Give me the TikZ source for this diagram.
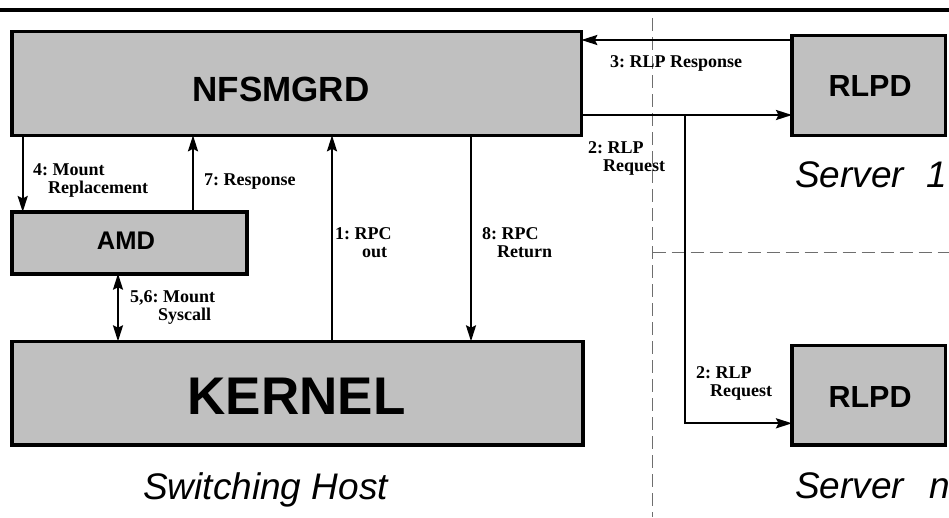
\documentclass[tikz,border=0pt]{standalone}
\usepackage{fontspec}
\setmainfont{Liberation Serif}
\newfontfamily\hv{Liberation Sans}
\usetikzlibrary{arrows.meta}
\definecolor{boxgray}{RGB}{192,192,192}
\definecolor{dashgray}{RGB}{110,110,110}
\frenchspacing
\tikzset{headtip/.tip={Stealth[length=16pt,width=10pt,inset=2.5pt]}}
\begin{document}
\begin{tikzpicture}[x=1pt,y=-1pt,
  box/.style={draw=black, line width=3.6pt, fill=boxgray, inner sep=0pt, outer sep=0pt, anchor=north west},
  arr/.style={line width=2.2pt, -headtip},
  darr/.style={line width=2.2pt, headtip-headtip},
  sep/.style={draw=dashgray, line width=1pt, dash pattern=on 13pt off 6pt},
  lab/.style={font=\bfseries\fontsize{18}{18.5}\selectfont, anchor=base west, inner sep=0pt},
  boxtext/.style={font=\hv\bfseries, inner sep=0pt, anchor=center},
  place/.style={font=\hv\itshape\fontsize{37}{40}\selectfont, anchor=base west, inner sep=0pt}]
\useasboundingbox (0,0) rectangle (949,517);

% top rule
\draw[line width=4pt] (0,10.3) -- (949,10.3);

% separators
\draw[sep] (652.7,18) -- (652.7,517);
\draw[sep] (652.7,252.7) -- (949,252.7);

% boxes
\node[box, minimum width=569.3pt, minimum height=104pt] (nfs) at (12,31.3) {};
\node[box, minimum width=234.7pt, minimum height=61.7pt] (amd) at (12,212) {};
\node[box, minimum width=570.7pt, minimum height=103.4pt] (ker) at (12,341.3) {};
\node[box, minimum width=153.3pt, minimum height=100pt] (r1) at (792,35.3) {};
\node[box, minimum width=153.3pt, minimum height=99.4pt] (r2) at (792,345.3) {};

\node[boxtext, font=\hv\bfseries\fontsize{35}{37}\selectfont] (tnfs) at (281,89.5) {NFSMGRD};
\node[boxtext, font=\hv\bfseries\fontsize{25.5}{28}\selectfont] (tamd) at (126,241) {AMD};
\node[boxtext, font=\hv\bfseries\fontsize{53}{56}\selectfont] (tker) at (296.5,396.7) {KERNEL};
\node[boxtext, font=\hv\bfseries\fontsize{30.5}{32}\selectfont] (tr1) at (870,86.3) {RLPD};
\node[boxtext, font=\hv\bfseries\fontsize{30.5}{32}\selectfont] (tr2) at (870,397) {RLPD};

% connector columns / rows
\coordinate (x4) at (22.7,0);
\coordinate (x7) at (193,0);
\coordinate (x1) at (332,0);
\coordinate (x8) at (471,0);
\coordinate (x56) at (118,0);
\coordinate (y3) at (0,40);
\coordinate (y2) at (0,115);
\coordinate (y2b) at (0,423.3);
\coordinate (br) at (685,115);

\draw[arr] (x4 |- nfs.south) -- (x4 |- amd.north);
\draw[arr] (x7 |- amd.north) -- (x7 |- nfs.south);
\draw[arr] (x1 |- ker.north) -- (x1 |- nfs.south);
\draw[arr] (x8 |- nfs.south) -- (x8 |- ker.north);
\draw[darr] (x56 |- amd.south) -- (x56 |- ker.north);
\draw[arr] (r1.west |- y3) -- (nfs.east |- y3);
\draw[arr] (nfs.east |- y2) -- (r1.west |- y2);
\draw[arr] (br) |- (r2.west |- y2b);

% labels
\node[lab] (l3) at (610,67) {3: RLP Response};
\node[lab] (l4) at (33,175) {\begin{tabular}[t]{@{}l@{}}4: Mount\\\hspace*{15pt}Replacement\end{tabular}};
\node[lab] (l7) at (204,185) {7: Response};
\node[lab] (l1) at (335,239) {\begin{tabular}[t]{@{}l@{}}1: RPC\\\hspace*{27pt}out\end{tabular}};
\node[lab] (l8) at (482,239) {\begin{tabular}[t]{@{}l@{}}8: RPC\\\hspace*{15pt}Return\end{tabular}};
\node[lab] (l2a) at (588,153) {\begin{tabular}[t]{@{}l@{}}2: RLP\\\hspace*{15pt}Request\end{tabular}};
\node[lab] (l2b) at (696,378) {\begin{tabular}[t]{@{}l@{}}2: RLP\\\hspace*{14pt}Request\end{tabular}};
\node[lab] (l56) at (130,302) {\begin{tabular}[t]{@{}l@{}}5,6: Mount\\\hspace*{28pt}Syscall\end{tabular}};

% place names
\node[place] (sh) at (143,499) {Switching Host};
\node[place] (s1) at (795,187) {Server\hspace{22pt}1};
\node[place] (sn) at (795,498) {Server\hspace{25pt}n};
\end{tikzpicture}
\end{document}
